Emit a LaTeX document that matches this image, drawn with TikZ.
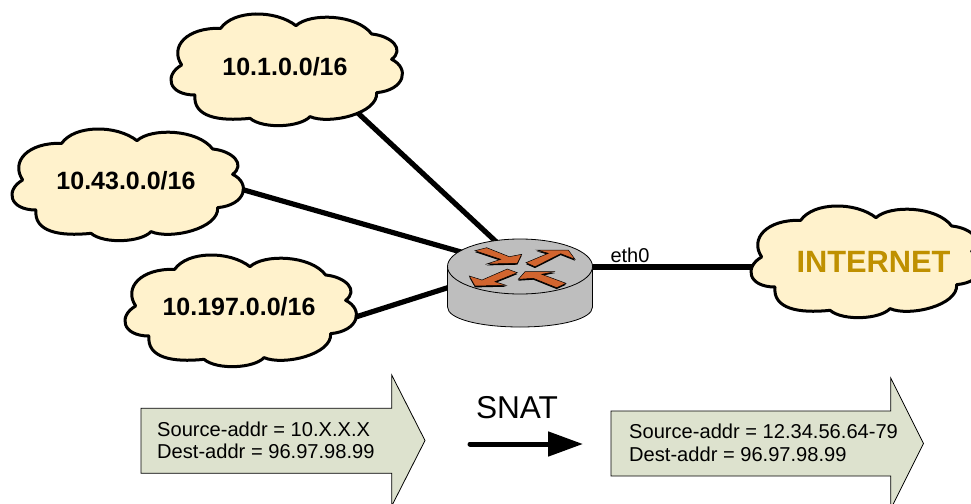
\documentclass[tikz,border=0pt]{standalone}
\usepackage{fontspec}
\setmainfont{Liberation Sans}
\usetikzlibrary{arrows.meta}
\definecolor{cloudfill}{HTML}{FFF2CC}
\definecolor{gold}{HTML}{BF9000}
\definecolor{blockfill}{HTML}{DDE2CE}
\definecolor{routergrey}{HTML}{BEBEBE}
\definecolor{routerorange}{HTML}{D2652F}
\newcommand{\fsz}[1]{\fontsize{#1}{#1}\selectfont}
\newcommand{\cloudat}[2]{%
  \begin{scope}[shift={(#1,#2)},x=0.3333pt,y=-0.3333pt]
  \draw[cloudline] (182,55) .. controls (220,0) and (345,-2) .. (408,47)
    .. controls (450,8) and (590,12) .. (635,72)
    .. controls (695,78) and (735,118) .. (695,148)
    .. controls (750,175) and (735,240) .. (650,248)
    .. controls (655,310) and (510,345) .. (450,320)
    .. controls (420,352) and (310,358) .. (270,325)
    .. controls (175,335) and (98,320) .. (105,255)
    .. controls (24,255) and (12,195) .. (65,165)
    .. controls (28,110) and (80,52) .. cycle;
  \end{scope}}
\newcommand{\routerarrow}[1]{%
  \fill[black,shift={(0,1.4)}] #1;
  \fill[routerorange,draw=black,line width=0.5pt] #1;}
\tikzset{
  link/.style={line width=5.2pt,draw=black},
  cloudline/.style={line width=3pt,draw=black,fill=cloudfill,line join=round},
  cloudlabel/.style={font=\bfseries\fsz{25},inner sep=0pt},
  blockarrow/.style={draw=black,line width=0.8pt,fill=blockfill,line join=miter},
  addrtext/.style={font=\fsz{20.1},inner sep=0pt,anchor=base west},
}
\begin{document}
\begin{tikzpicture}[x=1pt,y=-1pt]
\clip (0,0) rectangle (971,503);
% ports
\coordinate (p1) at (345,101);
\coordinate (p2) at (230,186);
\coordinate (p3) at (340,322);
\coordinate (p4) at (765,267);
\coordinate (r1) at (505,250);
\coordinate (r2) at (475,256);
\coordinate (r3) at (475,279);
\coordinate (r4) at (575,267);
\draw[link] (p1) -- (r1);
\draw[link] (p2) -- (r2);
\draw[link] (p3) -- (r3);
\draw[link] (r4) -- (p4);
% clouds
\cloudat{160}{10}
\cloudat{1}{125}
\cloudat{114}{251}
\cloudat{740}{202}
\node[cloudlabel] (cloud1) at (285,67) {10.1.0.0/16};
\node[cloudlabel] (cloud2) at (126,181) {10.43.0.0/16};
\node[cloudlabel] (cloud3) at (239,307) {10.197.0.0/16};
\node[font=\bfseries\fsz{30.8},text=gold,inner sep=0pt] (internet) at (873.5,262) {INTERNET};
% router
\draw[black,line width=0.8pt,fill=routergrey] (447.5,266.5) -- (447.5,307)
  .. controls (447.5,319) and (480,327) .. (520,327)
  .. controls (560,327) and (592.5,319) .. (592.5,307) -- (592.5,266.5) -- cycle;
\draw[black,line width=0.8pt,fill=routergrey] (520,266.5) ellipse [x radius=72.5,y radius=27.5];
\routerarrow{(475,250.7) -- (486.7,247.7) -- (509.3,256.7) -- (521.7,254.3) -- (517.3,263.3) -- (486.7,264) -- (500.7,259.3) -- cycle}
\routerarrow{(526,262.7) -- (548.3,253.3) -- (536.7,250) -- (568.3,250) -- (575,259.3) -- (560.7,253.7) -- (535,266.7) -- cycle}
\routerarrow{(507.3,269) -- (517.3,272.7) -- (495,281.7) -- (506,285.3) -- (475,286) -- (469.3,276) -- (482,280) -- cycle}
\routerarrow{(518.3,279.3) -- (525,271.7) -- (555,271.7) -- (541.7,274.3) -- (566,283.3) -- (556.7,287.7) -- (533.3,278.3) -- cycle}
% block arrows
\draw[blockarrow] (141,408.3) -- (391.7,408.3) -- (391.7,375) -- (425,440.5) -- (391.7,506) -- (391.7,473.3) -- (141,473.3) -- cycle;
\draw[blockarrow] (611,411) -- (890.7,411) -- (890.7,378) -- (923.5,443.5) -- (890.7,509) -- (890.7,476) -- (611,476) -- cycle;
\node[addrtext] (src1) at (157,436) {Source-addr = 10.X.X.X};
\node[addrtext] (dst1) at (157,458) {Dest-addr = 96.97.98.99};
\node[addrtext] (src2) at (629,438) {Source-addr = 12.34.56.64-79};
\node[addrtext] (dst2) at (629,461) {Dest-addr = 96.97.98.99};
% labels
\node[font=\fsz{20},inner sep=0pt] (eth) at (630,255) {eth0};
\node[font=\fsz{31.6},inner sep=0pt] (snat) at (517,408) {SNAT};
\coordinate (snatL) at (470,444);
\coordinate (snatR) at (583,444);
\draw[line width=5pt,line cap=round,-{Triangle[length=35pt,width=24pt]}] (snatL) -- (snatR);
\end{tikzpicture}
\end{document}
